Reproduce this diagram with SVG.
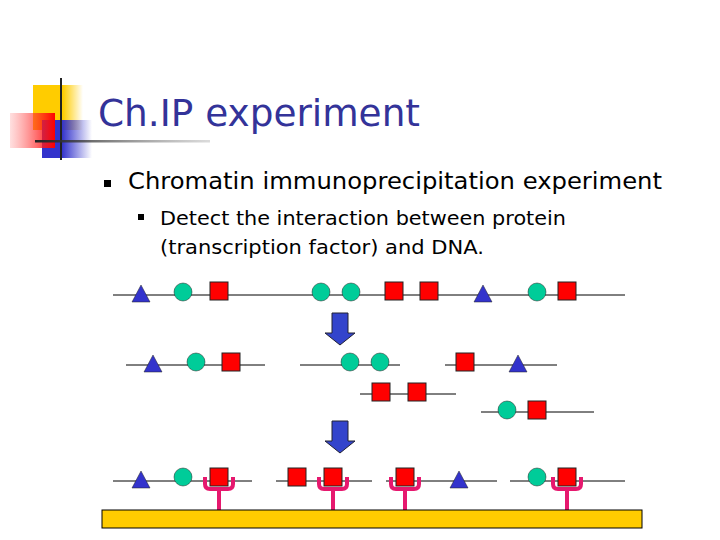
<svg xmlns="http://www.w3.org/2000/svg" width="720" height="540" viewBox="0 0 720 540">
<defs>
<linearGradient id="yg" x1="0" x2="1"><stop offset="0.6" stop-color="#ffcc00"/><stop offset="1" stop-color="#ffcc00" stop-opacity="0"/></linearGradient>
<linearGradient id="rg" x1="1" x2="0"><stop offset="0" stop-color="#ff0000"/><stop offset="1" stop-color="#ff6060" stop-opacity="0.2"/></linearGradient>
<linearGradient id="bg" x1="0" x2="1"><stop offset="0.4" stop-color="#3333cc"/><stop offset="1" stop-color="#3333cc" stop-opacity="0"/></linearGradient>
<linearGradient id="lg" x1="0" x2="1"><stop offset="0" stop-color="#222"/><stop offset="1" stop-color="#888" stop-opacity="0.3"/></linearGradient>
<g id="tri"><polygon points="0,-9 9,8 -9,8" fill="#3333cc" stroke="#222" stroke-width="0.5"/></g>
<g id="cir"><circle r="9" fill="#00cc99" stroke="#222" stroke-width="0.5"/></g>
<g id="sq"><rect x="-9" y="-9" width="18" height="18" fill="#ff0000" stroke="#222" stroke-width="1"/></g>
<g id="ab"><path d="M-14,-4 V3 Q-14,8 -9,8 H9 Q14,8 14,3 V-4 M0,8 V29" fill="none" stroke="#e6186e" stroke-width="4"/></g>
<g id="arr"><path d="M-8,0 H8 V20 H15 L0,32 L-15,20 H-8 Z" fill="#3344cc" stroke="#223" stroke-width="1"/></g>
</defs>
<style>.dna{stroke:#000;stroke-width:1}.t{font-family:"DejaVu Sans",Verdana,sans-serif}</style>
<g id="decor">
<rect x="33" y="85" width="50" height="45" fill="url(#yg)"/>
<rect x="42" y="120" width="50" height="38" fill="url(#bg)"/>
<rect x="10" y="113" width="45" height="35" fill="url(#rg)"/>
<line x1="61" y1="78" x2="61" y2="160" stroke="#222" stroke-width="2"/>
<rect x="35" y="140" width="175" height="2.5" fill="url(#lg)"/>
</g>
<text class="t" x="98" y="126" font-size="38" fill="#333399" textLength="322" lengthAdjust="spacingAndGlyphs">Ch.IP experiment</text>
<rect x="104" y="180" width="7" height="7" fill="#000"/>
<text class="t" x="128" y="189" font-size="23" fill="#000" textLength="534" lengthAdjust="spacingAndGlyphs">Chromatin immunoprecipitation experiment</text>
<rect x="138" y="214" width="6" height="6" fill="#000"/>
<text class="t" x="160" y="225" font-size="19" fill="#000" textLength="406" lengthAdjust="spacingAndGlyphs">Detect the interaction between protein</text>
<text class="t" x="160" y="254" font-size="19" fill="#000" textLength="324" lengthAdjust="spacingAndGlyphs">(transcription factor) and DNA.</text>
<g id="connectors">
<line class="dna" x1="113" y1="295" x2="625" y2="295"/>
<line class="dna" x1="126" y1="365" x2="265" y2="365"/>
<line class="dna" x1="300" y1="365" x2="400" y2="365"/>
<line class="dna" x1="445" y1="365" x2="557" y2="365"/>
<line class="dna" x1="360" y1="394" x2="456" y2="394"/>
<line class="dna" x1="481" y1="412" x2="594" y2="412"/>
<line class="dna" x1="113" y1="481" x2="252" y2="481"/>
<line class="dna" x1="276" y1="481" x2="372" y2="481"/>
<line class="dna" x1="386" y1="481" x2="497" y2="481"/>
<line class="dna" x1="510" y1="481" x2="625" y2="481"/>
</g>
<g id="arrows">
<use href="#arr" x="340" y="313"/>
<use href="#arr" x="340" y="421"/>
</g>
<g id="row1">
<use href="#tri" x="141" y="294"/><use href="#cir" x="183" y="292"/><use href="#sq" x="219" y="291"/>
<use href="#cir" x="321" y="292"/><use href="#cir" x="351" y="292"/><use href="#sq" x="394" y="291"/><use href="#sq" x="429" y="291"/>
<use href="#tri" x="483" y="294"/><use href="#cir" x="537" y="292"/><use href="#sq" x="567" y="291"/>
</g>
<g id="row2">
<use href="#tri" x="153" y="364"/><use href="#cir" x="196" y="362"/><use href="#sq" x="231" y="362"/>
<use href="#cir" x="350" y="362"/><use href="#cir" x="380" y="362"/>
<use href="#sq" x="465" y="362"/><use href="#tri" x="518" y="364"/>
<use href="#sq" x="381" y="392"/><use href="#sq" x="417" y="392"/>
<use href="#cir" x="507" y="410"/><use href="#sq" x="537" y="410"/>
</g>
<g id="row3">
<use href="#tri" x="141" y="480"/><use href="#cir" x="183" y="477"/><use href="#sq" x="219" y="477"/><use href="#ab" x="219" y="481"/>
<use href="#sq" x="297" y="477"/><use href="#sq" x="333" y="477"/><use href="#ab" x="333" y="481"/>
<use href="#sq" x="405" y="477"/><use href="#ab" x="405" y="481"/><use href="#tri" x="459" y="480"/>
<use href="#cir" x="537" y="477"/><use href="#sq" x="567" y="477"/><use href="#ab" x="567" y="481"/>
</g>
<rect id="bar" x="102" y="510" width="540" height="18" fill="#ffcc00" stroke="#000" stroke-width="1"/>
</svg>
